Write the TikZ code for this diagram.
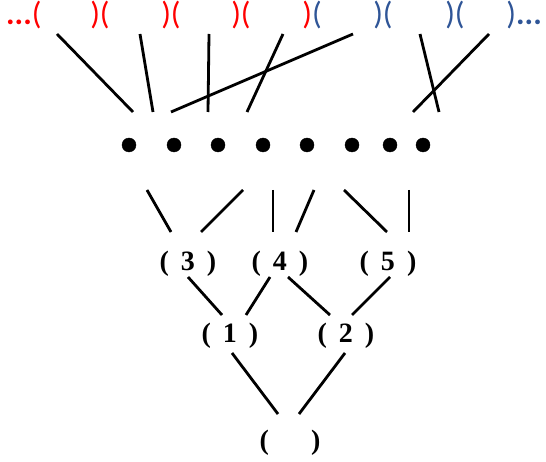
\documentclass[tikz,border=0pt]{standalone}
\usepackage{fontspec}
\setmainfont{Liberation Serif}
\newfontfamily\topfont{Carlito}
\definecolor{parred}{RGB}{255,0,0}
\definecolor{parblue}{RGB}{47,85,151}
\tikzset{
  seg/.style={draw=black,line width=2.8pt},
  dotnode/.style={shape=circle,draw=black,fill=black,inner sep=0pt,minimum size=14pt},
  toplab/.style={inner sep=0pt,font=\topfont\fontsize{32}{32}\selectfont},
  treelab/.style={inner sep=0pt,font=\bfseries\fontsize{28}{28}\selectfont}
}
\begin{document}
\begin{tikzpicture}[x=1pt,y=-1pt]
     \useasboundingbox (0,0) rectangle (546,462);

     % top row of brackets
     \node[toplab,text=parred,anchor=west] (P0) at (6,15){\textbf{...}(};
     \node[toplab,text=parred] (P1) at (100,15){)(};
     \node[toplab,text=parred] (P2) at (171,15){)(};
     \node[toplab,text=parred] (P3) at (241,15){)(};
     \node[toplab] (P4) at (312,15){\textcolor{parred}{)}\textcolor{parblue}{(}};
     \node[toplab,text=parblue] (P5) at (383,15){)(};
     \node[toplab,text=parblue] (P6) at (455,15){)(};
     \node[toplab,text=parblue,anchor=east] (P7) at (542,15){)\textbf{...}};

     % dots
     \node[dotnode] (D1) at (129,145){};
     \node[dotnode] (D2) at (174,145){};
     \node[dotnode] (D3) at (218,145){};
     \node[dotnode] (D4) at (263,145){};
     \node[dotnode] (D5) at (307,145){};
     \node[dotnode] (D6) at (352,145){};
     \node[dotnode] (D7) at (390,145){};
     \node[dotnode] (D8) at (423,145){};

     % tree labels
     \node[treelab] (N3) at (188,264){(\hspace{12pt}3\hspace{12pt})};
     \node[treelab] (N4) at (280,264){(\hspace{12pt}4\hspace{12pt})};
     \node[treelab] (N5) at (388,264){(\hspace{12pt}5\hspace{12pt})};
     \node[treelab] (N1) at (230,336){(\hspace{12pt}1\hspace{12pt})};
     \node[treelab] (N2) at (346,336){(\hspace{12pt}2\hspace{12pt})};
     \node[treelab] (R) at (290,443){(\hspace{42pt})};

     % line ends
     \coordinate (T1) at (57,34);   \coordinate (B1) at (133,112);
     \coordinate (T2) at (140,34);  \coordinate (B2) at (153,112);
     \coordinate (T3) at (353,34);  \coordinate (B3) at (171,112);
     \coordinate (T4) at (209,34);  \coordinate (B4) at (208,112);
     \coordinate (T5) at (283,34);  \coordinate (B5) at (247,112);
     \coordinate (T6) at (420,34);  \coordinate (B6) at (439,112);
     \coordinate (T7) at (489,34);  \coordinate (B7) at (413,112);

     \coordinate (E1) at (147,190); \coordinate (F1) at (171,232);
     \coordinate (E2) at (243,190); \coordinate (F2) at (201,232);
     \coordinate (E3) at (273,190); \coordinate (F3) at (273,232);
     \coordinate (E4) at (314,190); \coordinate (F4) at (296,232);
     \coordinate (E5) at (344,190); \coordinate (F5) at (387,232);
     \coordinate (E6) at (409,190); \coordinate (F6) at (409,232);

     \coordinate (G1) at (188,277); \coordinate (H1) at (222,315);
     \coordinate (G2) at (270,277); \coordinate (H2) at (246,315);
     \coordinate (G3) at (288,277); \coordinate (H3) at (330,315);
     \coordinate (G4) at (390,277); \coordinate (H4) at (352,315);

     \coordinate (K1) at (232,353); \coordinate (L1) at (278,414);
     \coordinate (K2) at (345,353); \coordinate (L2) at (299,414);

     % connectors
     \draw [seg] (T1) to (B1);
     \draw [seg] (T2) to (B2);
     \draw [seg] (T3) to (B3);
     \draw [seg] (T4) to (B4);
     \draw [seg] (T5) to (B5);
     \draw [seg] (T6) to (B6);
     \draw [seg] (T7) to (B7);

     \draw [seg] (E1) to (F1);
     \draw [seg] (E2) to (F2);
     \draw [seg] (E3) to (F3);
     \draw [seg] (E4) to (F4);
     \draw [seg] (E5) to (F5);
     \draw [seg] (E6) to (F6);

     \draw [seg] (G1) to (H1);
     \draw [seg] (G2) to (H2);
     \draw [seg] (G3) to (H3);
     \draw [seg] (G4) to (H4);

     \draw [seg] (K1) to (L1);
     \draw [seg] (K2) to (L2);

\end{tikzpicture}
\end{document}
